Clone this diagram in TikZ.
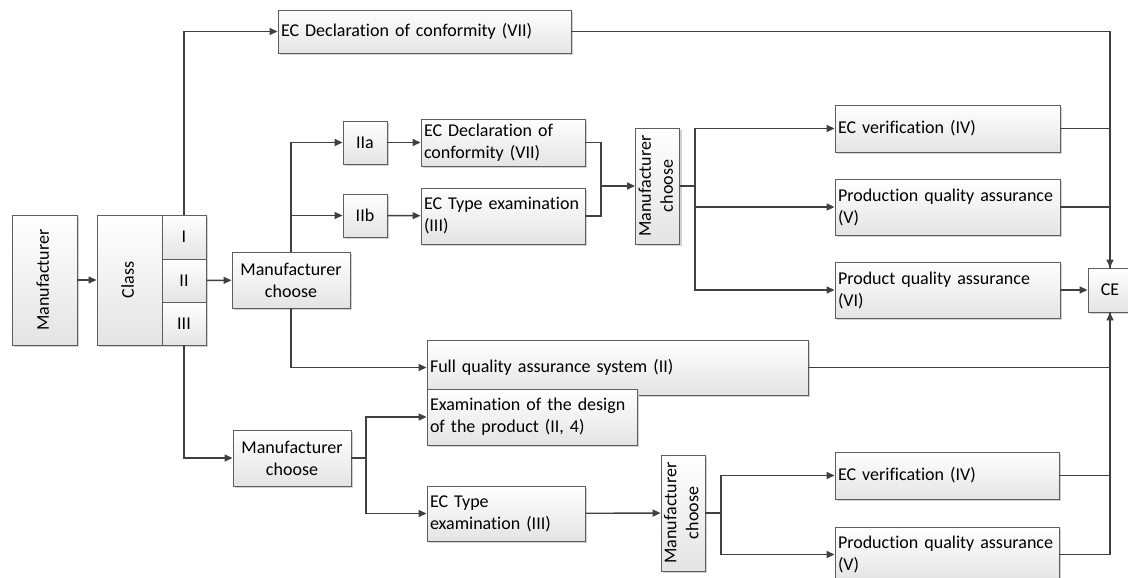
\documentclass[tikz,border=0pt]{standalone}
\usepackage{fontspec}
\setmainfont{Carlito}[Ligatures={NoCommon,NoContextual}]
\usepackage{graphicx}
\usetikzlibrary{arrows.meta,shadows}

\definecolor{edge}{HTML}{404040}
\definecolor{frame}{HTML}{5E5E5E}
\definecolor{boxbot}{HTML}{E4E4E4}

% box given by its corners: name, x1, y1, x2, y2, style, text
\newcommand\bx[7]{%
  \pgfmathsetmacro\bxw{#4-#2}\pgfmathsetmacro\bxh{#5-#3}%
  \pgfmathsetmacro\bxtw{#4-#2-6}%
  \pgfmathsetmacro\bxcx{(#2+#4)/2}\pgfmathsetmacro\bxcy{(#3+#5)/2}%
  \node[#6] (#1) at (\bxcx,\bxcy) {#7};}
% text set upright along the box, reading upwards
\newcommand\vtext[1]{\rotatebox{90}{\begin{tabular}{@{}c@{}}#1\end{tabular}}}

\tikzset{
  base/.style={draw=frame, line width=0.9pt, top color=white, bottom color=boxbot,
    drop shadow={shadow xshift=2pt, shadow yshift=-2pt, fill=black!18, opacity=1},
    inner sep=0pt, font=\fontsize{18}{22}\selectfont, text=black,
    minimum width=\bxw pt, minimum height=\bxh pt},
  cbox/.style={base, align=center},
  lbox/.style={base, align=left, inner xsep=3pt, text width=\bxtw pt},
  ln/.style={draw=edge, line width=1.4pt},
  arr/.style={ln, -{Triangle[length=8pt,width=7pt]}},
}

\begin{document}
\begin{tikzpicture}[x=1pt,y=-1pt]
\useasboundingbox (0,0) rectangle (1128,578);
\clip (0,0) rectangle (1128,578);

% boxes
\bx{man}{12}{215}{77}{345}{cbox}{\vtext{Manufacturer}}
\bx{cls}{97}{215}{162}{345}{cbox}{\vtext{Class}}
\bx{cI}{162}{215}{206}{259}{cbox}{I}
\bx{cII}{162}{259}{206}{302}{cbox}{II}
\bx{cIII}{162}{302}{206}{345}{cbox}{III}
\bx{ch1}{232}{252}{350}{308}{cbox}{Manufacturer\\choose}
\bx{decl1}{278}{10}{571}{53}{lbox}{EC Declaration of conformity (VII)}
\bx{IIa}{343}{121}{387}{164}{cbox}{IIa}
\bx{IIb}{343}{194}{387}{237}{cbox}{IIb}
\bx{decl2}{421}{119}{585}{166}{lbox}{EC Declaration of\\conformity (VII)}
\bx{type1}{421}{188}{585}{244}{lbox}{EC Type examination\\(III)}
\bx{ch3}{636}{128}{679}{244}{cbox}{\vtext{Manufacturer\\choose}}
\bx{ver1}{835}{105}{1060}{152}{lbox}{EC verification (IV)}
\bx{pqa1}{835}{179}{1060}{235}{lbox}{Production quality assurance\\(V)}
\bx{pqa6}{835}{262}{1060}{318}{lbox}{Product quality assurance\\(VI)}
\bx{ce}{1088}{268}{1132}{312}{cbox}{CE}
\bx{fqa}{427}{340}{808}{395}{lbox}{Full quality assurance system (II)}
\bx{exam}{427}{389}{637}{445}{lbox}{Examination of the design\\of the product (II, 4)}
\bx{ch2}{233}{430}{351}{486}{cbox}{Manufacturer\\choose}
\bx{type2}{427}{486}{585}{541}{lbox}{EC Type\\examination (III)}
\bx{ch4}{662}{455}{704}{571}{cbox}{\vtext{Manufacturer\\choose}}
\bx{ver2}{835}{452}{1059}{499}{lbox}{EC verification (IV)}
\bx{pqa2}{835}{527}{1059}{582}{lbox}{Production quality assurance\\(V)}

% junction points
\coordinate (j1) at (601,186);
\coordinate (j2) at (695,186);
\coordinate (j3) at (366,458);
\coordinate (j4) at (721,513);

% connectors
\draw[arr] (man) -- (cls);
\draw[arr] (cII) -- (ch1);
\draw[arr] (cI.north) |- (decl1.west);
\draw[arr] (cIII.south) |- (ch2.west);
\draw[arr] (ch1.north) |- (IIa.west);
\draw[arr] (ch1.north) |- (IIb.west);
\draw[arr] (ch1.south) |- (fqa.west);
\draw[arr] (IIa) -- (decl2);
\draw[arr] (IIb) -- (type1);
\draw[ln] (decl2.east) -| (j1);
\draw[ln] (type1.east) -| (j1);
\draw[arr] (j1) -- (ch3.west);
\draw[ln] (ch3.east) -- (j2);
\draw[arr] (j2) |- (ver1.west);
\draw[arr] (j2) |- (pqa1.west);
\draw[arr] (j2) |- (pqa6.west);
\draw[ln] (ver1.east) -| (ce.north);
\draw[ln] (pqa1.east) -| (ce.north);
\draw[arr] (decl1.east) -| (ce.north);
\draw[arr] (pqa6) -- (ce);
\draw[ln] (fqa.east) -| (ce.south);
\draw[ln] (ver2.east) -| (ce.south);
\draw[arr] (pqa2.east) -| (ce.south);
\draw[ln] (ch2.east) -- (j3);
\draw[arr] (j3) |- (exam.west);
\draw[arr] (j3) |- (type2.west);
\draw[arr] (type2) -- (ch4);
\draw[ln] (ch4.east) -- (j4);
\draw[arr] (j4) |- (ver2.west);
\draw[arr] (j4) |- (pqa2.west);
\end{tikzpicture}
\end{document}
